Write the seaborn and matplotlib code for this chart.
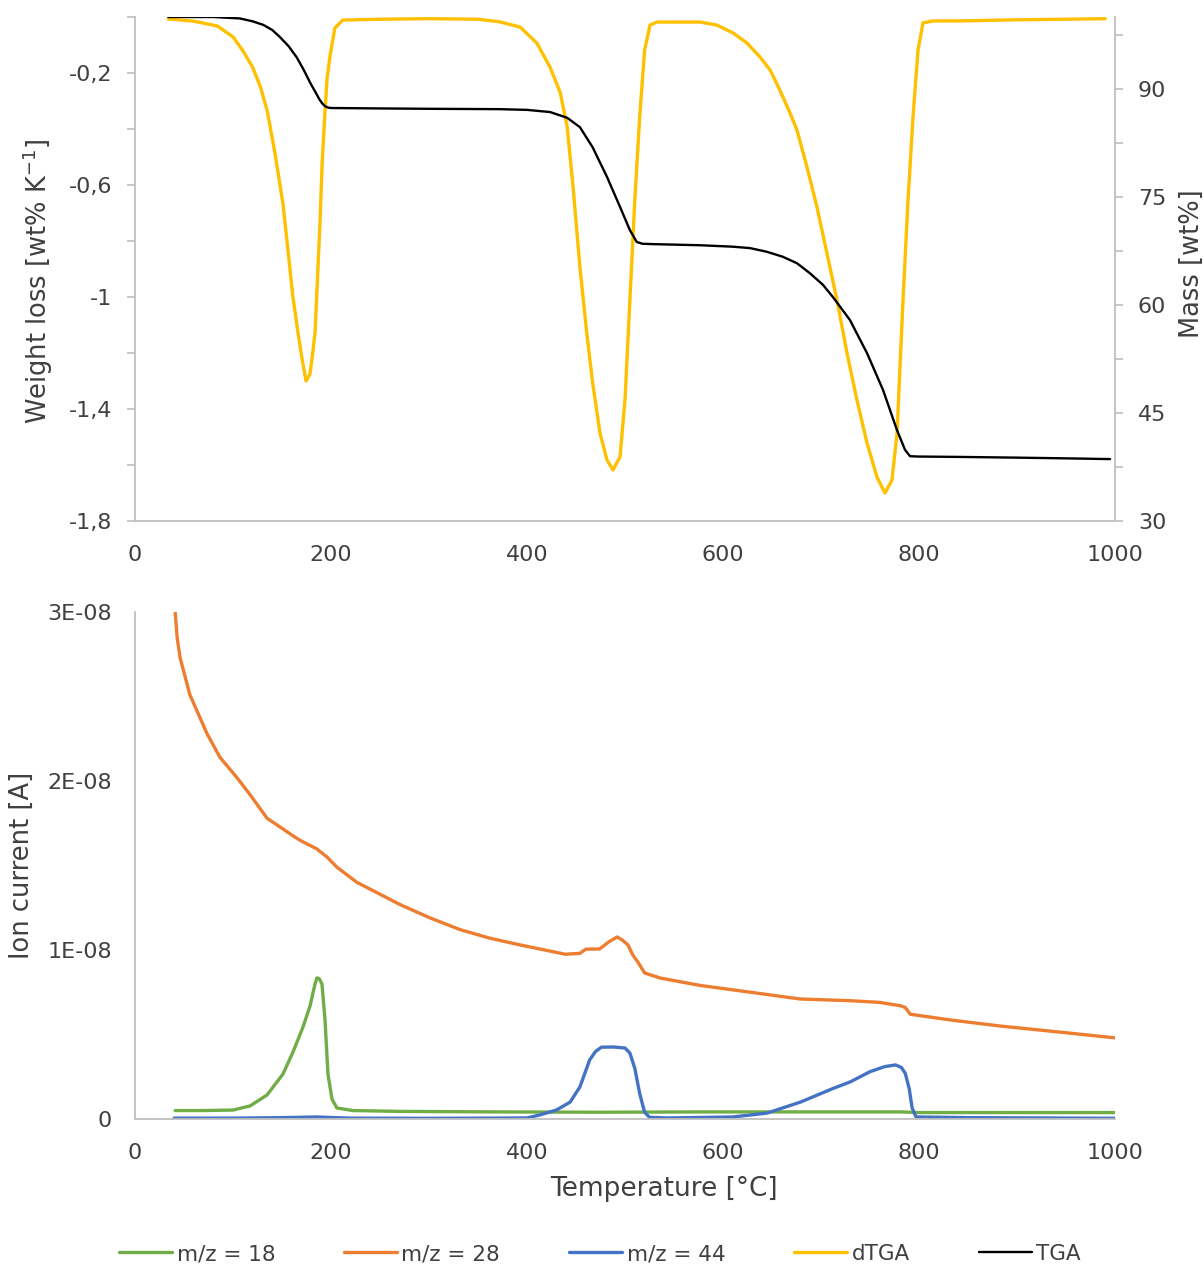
import numpy as np
import pandas as pd
import matplotlib
matplotlib.use("Agg")
import matplotlib.pyplot as plt
import seaborn as sns
from matplotlib.ticker import MultipleLocator, FixedLocator, FuncFormatter

# ---------------- data ----------------
# TGA (mass, wt%) - right axis of the top panel
T_tga = [34, 80, 107, 120, 131, 140, 148, 157, 165, 172, 179, 184, 188, 191, 194, 197, 200,
         250, 300, 372, 400, 423.5, 441, 454, 467, 481.6, 495, 505, 512, 518, 530, 576.5,
         610, 627.6, 644.5, 661, 675.5, 688.8, 702, 712.2, 729.6, 747, 763.3, 777.6, 785.7,
         790.8, 800, 841.8, 900, 950, 995]
m_tga = [100.0, 100.0, 99.8, 99.4, 98.9, 98.2, 97.2, 95.9, 94.4, 92.7, 90.8, 89.6, 88.6, 88.0,
         87.6, 87.42, 87.36, 87.3, 87.25, 87.2, 87.1, 86.8, 86.0, 84.7, 81.9, 77.8, 73.6, 70.4,
         68.75, 68.5, 68.45, 68.3, 68.1, 67.9, 67.4, 66.7, 65.8, 64.4, 62.8, 61.1, 57.9, 53.3,
         48.2, 42.6, 39.9, 39.0, 38.95, 38.9, 38.8, 38.7, 38.6]

# dTGA (wt% K-1) - left axis of the top panel
T_dtga = [34, 60, 84, 100, 110, 120, 128, 135, 143, 151, 156, 161, 166, 170, 174.5, 178.6,
          181, 183.7, 186, 188.8, 191, 193.9, 196, 199, 204, 212, 250, 300, 350, 372, 393,
          410, 423.5, 434, 441, 447, 454, 461, 467, 474.5, 481.6, 487.8, 494.9, 500, 505,
          510, 515, 520, 525.5, 532.7, 576.5, 593.9, 610.2, 624.5, 637.8, 648, 658, 668.4,
          675.5, 685.7, 695.9, 706, 716.3, 726.5, 736.7, 746.9, 757.1, 765.3, 772.4, 777.6,
          780.6, 783.7, 788.8, 793.9, 799, 804.1, 814.3, 842, 900, 950, 990]
v_dtga = [-0.007, -0.015, -0.032, -0.071, -0.12, -0.179, -0.25, -0.336, -0.49, -0.668,
          -0.83, -0.996, -1.12, -1.211, -1.30, -1.275, -1.21, -1.129, -0.95, -0.732,
          -0.52, -0.336, -0.22, -0.139, -0.039, -0.011, -0.008, -0.006, -0.008, -0.017,
          -0.036, -0.093, -0.179, -0.271, -0.393, -0.607, -0.893, -1.129, -1.307, -1.486,
          -1.582, -1.618, -1.571, -1.368, -1.011, -0.654, -0.357, -0.118, -0.029, -0.018,
          -0.018, -0.029, -0.057, -0.093, -0.143, -0.189, -0.261, -0.343, -0.404, -0.536,
          -0.679, -0.843, -1.011, -1.2, -1.368, -1.521, -1.643, -1.7, -1.654, -1.486,
          -1.25, -1.011, -0.654, -0.357, -0.118, -0.021, -0.014, -0.014, -0.010, -0.008,
          -0.006]

# Ion currents (in units of 1E-08 A) - bottom panel
T_18 = [41, 70, 100, 117.3, 134.7, 151, 161.2, 171.4, 178.6, 183.7, 185.7, 188, 190.8, 193.9,
        196.9, 201, 206, 222.4, 270, 372, 474, 577, 679, 781, 801, 1000]
i_18 = [0.05, 0.05, 0.053, 0.077, 0.142, 0.266, 0.396, 0.544, 0.669, 0.799, 0.835, 0.83,
        0.799, 0.586, 0.266, 0.118, 0.065, 0.05, 0.045, 0.042, 0.040, 0.042, 0.042, 0.042,
        0.038, 0.038]

T_28 = [41, 43, 46, 56, 73.5, 86.7, 104, 117.3, 134.7, 144.9, 165.3, 171.4, 185, 196, 206,
        226.5, 250, 270, 301, 332, 362, 393, 418, 439, 454, 460, 474, 484, 492, 497, 503, 508,
        513, 520, 536, 577, 628, 679, 730, 760, 781, 786, 791, 832, 883, 934, 1000]
i_28 = [3.0, 2.85, 2.73, 2.51, 2.28, 2.14, 2.02, 1.92, 1.78, 1.74, 1.66, 1.64, 1.60, 1.55,
        1.49, 1.40, 1.33, 1.27, 1.19, 1.12, 1.07, 1.03, 1.00, 0.975, 0.98, 1.005, 1.006,
        1.05, 1.077, 1.06, 1.03, 0.97, 0.93, 0.864, 0.834, 0.79, 0.75, 0.71, 0.70, 0.69,
        0.67, 0.66, 0.62, 0.586, 0.55, 0.52, 0.48]

T_44 = [40, 100, 150, 185, 220, 300, 400, 413, 430, 444, 454, 464, 470, 476, 488, 500, 505,
        510, 515, 520, 525, 543, 610, 645, 679, 712, 730, 750, 765, 776, 782, 786, 790, 793,
        797, 850, 1000]
i_44 = [0.005, 0.005, 0.008, 0.012, 0.005, 0.004, 0.006, 0.024, 0.053, 0.10, 0.19, 0.35,
        0.40, 0.425, 0.426, 0.42, 0.39, 0.30, 0.15, 0.04, 0.01, 0.006, 0.012, 0.035, 0.10,
        0.18, 0.22, 0.28, 0.31, 0.32, 0.305, 0.27, 0.18, 0.065, 0.012, 0.008, 0.004]

labels = ["m/z = 18", "m/z = 28", "m/z = 44", "dTGA", "TGA"]
colors = ["#70AD47", "#ED7D31", "#4472C4", "#FFC000", "#000000"]

# ---------------- style ----------------
sns.set_theme(style="white")
plt.rcParams['font.family'] = ['DejaVu Sans']
GRAY = "#BFBFBF"
TXT = "#404040"
TICK_FS = 16
LAB_FS = 18.5

fig = plt.figure(figsize=(12.04, 12.66), dpi=100)
W, H = 1204, 1266
ax1 = fig.add_axes([135 / W, 1 - 521 / H, 980 / W, 504 / H])
ax1r = ax1.twinx()
ax2 = fig.add_axes([135 / W, 1 - 1119 / H, 980 / W, 507 / H])

handles = {}

def draw(ax, x, y, color, lw, key):
    df = pd.DataFrame({"x": x, "y": y})
    sns.lineplot(data=df, x="x", y="y", ax=ax, color=color, lw=lw,
                 estimator=None, sort=False, legend=False)
    line = ax.lines[-1]
    line.set_solid_joinstyle("round")
    handles[key] = line

draw(ax1, T_dtga, v_dtga, colors[3], 2.4, labels[3])
draw(ax1r, T_tga, m_tga, colors[4], 1.7, labels[4])
draw(ax2, T_18, np.array(i_18) * 1e-8, colors[0], 2.4, labels[0])
draw(ax2, T_28, np.array(i_28) * 1e-8, colors[1], 2.4, labels[1])
draw(ax2, T_44, np.array(i_44) * 1e-8, colors[2], 2.4, labels[2])

def comma_fmt(v, pos):
    return ("%g" % round(v, 2)).replace(".", ",")

def sci_fmt(v, pos):
    if abs(v) < 1e-12:
        return "0"
    return "%dE-08" % round(v / 1e-8)

for ax in (ax1, ax2):
    ax.set_xlim(0, 1000)
    ax.xaxis.set_major_locator(MultipleLocator(200))
    ax.xaxis.set_minor_locator(MultipleLocator(100))

ax1.set_ylim(-1.8, 0)
ax1.yaxis.set_major_locator(FixedLocator([-1.8, -1.4, -1.0, -0.6, -0.2]))
ax1.yaxis.set_minor_locator(FixedLocator([-1.6, -1.2, -0.8, -0.4, 0.0]))
ax1.yaxis.set_major_formatter(FuncFormatter(comma_fmt))

ax1r.set_ylim(30, 100)
ax1r.yaxis.set_major_locator(FixedLocator([30, 45, 60, 75, 90]))
ax1r.yaxis.set_minor_locator(FixedLocator([37.5, 52.5, 67.5, 82.5, 97.5]))

ax2.set_ylim(0, 3e-8)
ax2.yaxis.set_major_locator(FixedLocator([0, 1e-8, 2e-8, 3e-8]))
ax2.yaxis.set_minor_locator(FixedLocator([0.5e-8, 1.5e-8, 2.5e-8]))
ax2.yaxis.set_major_formatter(FuncFormatter(sci_fmt))
ax2.yaxis.get_offset_text().set_visible(False)

for ax in (ax1, ax1r, ax2):
    for s in ax.spines.values():
        s.set_visible(False)
        s.set_color(GRAY)
        s.set_linewidth(1.3)
    ax.tick_params(which="both", direction="out", color=GRAY, width=1.2,
                   labelcolor=TXT, labelsize=TICK_FS, pad=11)
    ax.tick_params(which="major", length=5.5)
    ax.tick_params(which="minor", length=5.5)
    ax.grid(False)
    ax.set_facecolor("none")

for ax in (ax1, ax2):
    ax.tick_params(axis="x", pad=12)

ax1.spines["left"].set_visible(True)
ax1.spines["bottom"].set_visible(True)
ax1r.spines["right"].set_visible(True)
ax2.spines["left"].set_visible(True)
ax2.spines["bottom"].set_visible(True)
ax1.tick_params(axis="y", which="both", right=False)
ax1r.tick_params(axis="x", which="both", bottom=False, top=False, labelbottom=False)

ax1.set_xlabel("")
ax1.set_ylabel("Weight loss [wt% K$^{-1}$]", fontsize=LAB_FS, color=TXT, labelpad=10)
ax1.yaxis.label.set_y(0.476)
ax1r.set_ylabel("Mass [wt%]", fontsize=LAB_FS, color=TXT, labelpad=9)
ax1r.yaxis.label.set_y(0.51)
ax2.set_ylabel("Ion current [A]", fontsize=LAB_FS, color=TXT, labelpad=9)
ax2.set_xlabel("Temperature [°C]", fontsize=19, color=TXT, labelpad=9)
ax2.xaxis.label.set_x(0.54)

leg = fig.legend([handles[k] for k in labels], labels, loc="center",
                 bbox_to_anchor=(600 / W, 1 - 1254 / H), ncol=5, frameon=False,
                 fontsize=15.5, handlelength=2.45, handletextpad=0.22, columnspacing=3.2,
                 labelcolor=TXT)

fig.savefig("out.png", dpi=100)
